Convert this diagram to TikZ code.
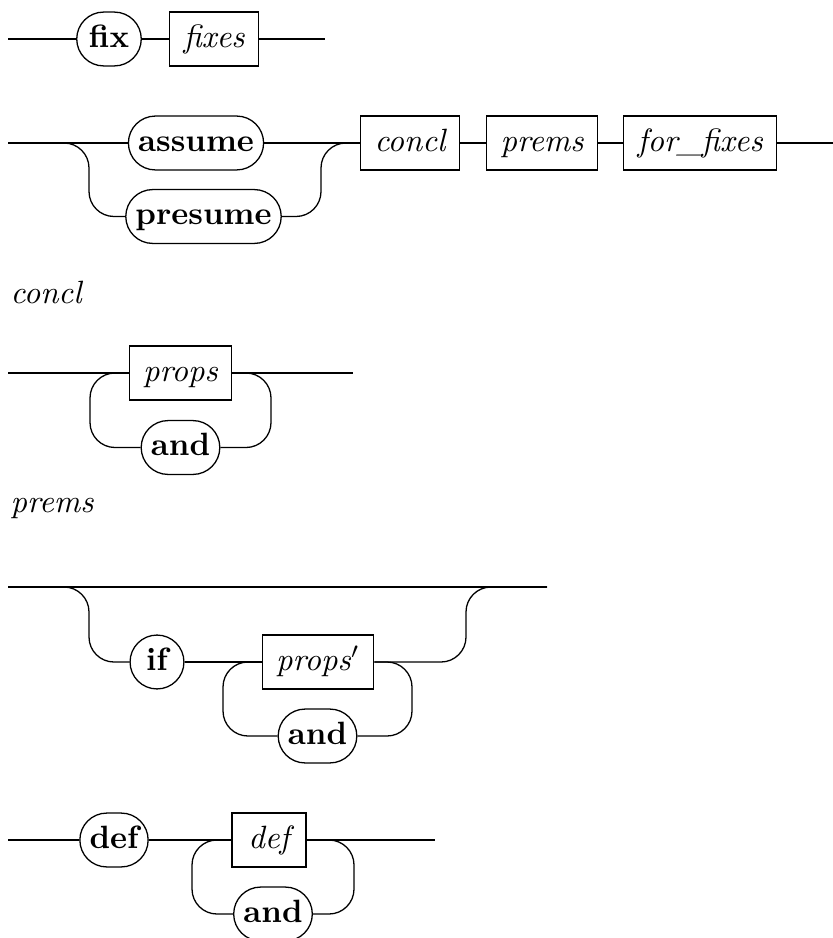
\documentclass[tikz,border=0pt]{standalone}
\usetikzlibrary{positioning}
\tikzset{
  kw/.style={draw, rounded corners=8.35pt, minimum height=16.7pt, minimum width=20pt,
    inner xsep=3pt, text height=6.9pt, text depth=1.9pt, font=\bfseries},
  nt/.style={draw, minimum height=16.7pt, minimum width=23pt,
    inner xsep=4.3pt, text height=6.9pt, text depth=1.9pt, font=\itshape},
  rail/.style={rounded corners=7.75pt},
  lbl/.style={anchor=base west, inner sep=0pt, font=\itshape}
}
\begin{document}
\begin{tikzpicture}[x=0.31pt, y=-0.31pt]
  \useasboundingbox (0,0) rectangle (833,938);

  % fix fixes
  \coordinate (S1) at (8,39);
  \coordinate (E1) at (325,39);
  \node[kw] (fix) at (109,39) {fix};
  \node[nt, right=8.4pt of fix] (fixes) {fixes};
  \draw (S1) -- (fix) -- (fixes) -- (E1);

  % assume / presume, concl prems for_fixes
  \coordinate (S2) at (8,143);
  \coordinate (E2) at (833,143);
  \coordinate (L2) at (89,216.5);
  \coordinate (R2) at (321,143);
  \node[kw] (assume) at (196,143) {assume};
  \node[kw] (presume) at (203.5,216.5) {presume};
  \node[nt, anchor=west] (concl) at (360,143) {concl};
  \node[nt, right=8.1pt of concl] (prems) {prems};
  \node[nt, right=7.8pt of prems] (forfixes) {for\_fixes};
  \draw (S2) -- (assume) -- (concl) -- (prems) -- (forfixes) -- (E2);
  \draw[rail] (S2) -| (L2) -- (presume);
  \draw[rail] (presume) -| (R2) -- (concl);

  \node[lbl] (lconcl) at (10,303) {concl};

  % props (and props)*
  \coordinate (S3) at (8,373);
  \coordinate (E3) at (353,373);
  \coordinate (L3) at (90,373);
  \coordinate (R3) at (271,373);
  \node[nt] (props) at (180.5,373) {props};
  \node[kw] (and1) at (180.5,447.5) {and};
  \draw (S3) -- (props) -- (E3);
  \draw[rail] (and1) -| (L3) -- (props);
  \draw[rail] (and1) -| (R3) -- (props);

  \node[lbl] (lprems) at (10,512) {prems};

  % if props' (and props')*
  \coordinate (S4) at (8,587);
  \coordinate (E4) at (547,587);
  \coordinate (L4) at (89,662);
  \coordinate (R4) at (466,587);
  \coordinate (L4i) at (223,662);
  \coordinate (R4i) at (412,662);
  \node[kw, minimum width=16.7pt] (if) at (157,662) {if};
  \node[nt] (propsp) at (318,662) {props$'$};
  \node[kw] (and2) at (317.5,736) {and};
  \draw (S4) -- (E4);
  \draw[rail] (S4) -| (L4) -- (if);
  \draw (if) -- (propsp);
  \draw[rail] (and2) -| (L4i) -- (propsp);
  \draw[rail] (and2) -| (R4i) -- (propsp);
  \draw[rail] (propsp) -| (R4) -- (E4);

  % def def (and def)*
  \coordinate (S5) at (8,840);
  \coordinate (E5) at (435,840);
  \coordinate (L5) at (192,840);
  \coordinate (R5) at (354,840);
  \node[kw] (defkw) at (114,840) {def};
  \node[nt] (defnt) at (269,840) {def};
  \node[kw] (and3) at (273,914) {and};
  \draw (S5) -- (defkw) -- (defnt) -- (E5);
  \draw[rail] (and3) -| (L5) -- (defnt);
  \draw[rail] (and3) -| (R5) -- (defnt);
\end{tikzpicture}
\end{document}
